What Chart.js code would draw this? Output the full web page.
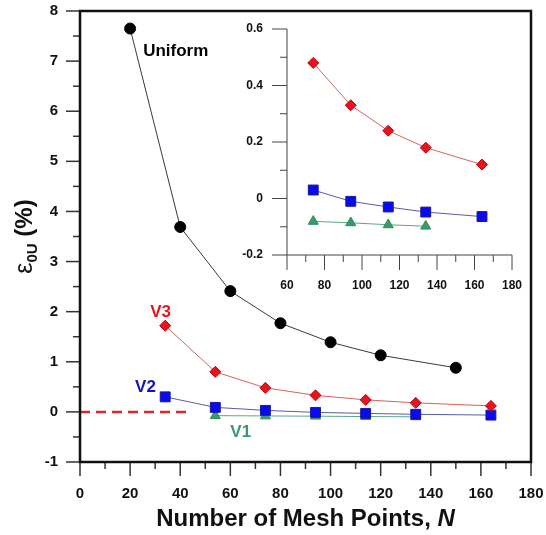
<!DOCTYPE html>
<html lang="en">
<head>
<meta charset="UTF-8">
<script src="https://cdn.jsdelivr.net/npm/chart.js"></script>
<title>Mesh convergence</title>
<style>
  body { margin: 0; background: #fff; }
  #wrap { position: relative; width: 546px; height: 535px; }
  #mainChart { position: absolute; left: 0; top: 0; }
  #insetChart { position: absolute; left: 240px; top: 15px; }
</style>
</head>
<body>
<div id="wrap">
  <canvas id="mainChart" width="546" height="535"></canvas>
  <canvas id="insetChart" width="285" height="290"></canvas>
</div>
<script>
// error (%) against number of mesh points for each node distribution
const uniformN = [20, 40, 60, 80, 100, 120, 150]
const uniformErr = [7.65, 3.69, 2.41, 1.77, 1.39, 1.13, 0.88]
const v3N = [34, 54, 74, 94, 114, 134, 164]
const v3Err = [1.72, 0.80, 0.48, 0.33, 0.24, 0.18, 0.12]
const v2N = [34, 54, 74, 94, 114, 134, 164]
const v2Err = [0.30, 0.09, 0.03, -0.01, -0.03, -0.048, -0.064]
const v1N = [54, 74, 94, 114, 134]
const v1Err = [-0.075, -0.081, -0.086, -0.093, -0.098]
const zeroN = [0, 43]
const zeroErr = [0, 0]

// labelled ticks (the rest of the ticks are unlabelled minor ones)
const mainXLabels = [0, 20, 40, 60, 80, 100, 120, 140, 160, 180]
const mainYLabels = [-1, 0, 1, 2, 3, 4, 5, 6, 7, 8]
const insetXLabels = [60, 80, 100, 120, 140, 160, 180]
const insetYLabels = [-0.2, 0, 0.2, 0.4, 0.6]

const FONT = '"Liberation Sans", Arial, sans-serif'
const RED = '#e8141c', BLUE = '#0a0af0', GREEN = '#3a9a6c'

function pts(xs, ys, minX) {
    return xs.map((x, i) => ({ x: x, y: ys[i] })).filter(p => minX === undefined || p.x >= minX)
}

function labelFrom(list, fmt) {
    return (v) => {
        const hit = list.find(l => Math.abs(l - v) < 1e-6)
        return hit === undefined ? '' : fmt(hit)
    }
}

function series(data, style, color, edge, line, radius) {
    return {
        data: data,
        borderColor: line,
        borderWidth: 1,
        pointStyle: style,
        pointRadius: radius,
        pointBackgroundColor: color,
        pointBorderColor: edge,
        pointBorderWidth: 1,
        tension: 0,
        fill: false
    }
}

// tick marks (long for labelled, short for minor) and the axis frame
const axisDecor = {
    id: 'axisDecor',
    afterDraw(chart, args, o) {
        const ctx = chart.ctx, a = chart.chartArea
        const xs = chart.scales.x, ys = chart.scales.y
        ctx.save()
        ctx.strokeStyle = o.tickColor
        ctx.lineWidth = o.tickWidth
        xs.ticks.forEach(t => {
            const px = xs.getPixelForValue(t.value)
            const len = t.label !== '' ? o.major : o.minor
            ctx.beginPath()
            ctx.moveTo(px, a.bottom)
            ctx.lineTo(px, a.bottom + len)
            ctx.stroke()
        })
        ys.ticks.forEach(t => {
            const py = ys.getPixelForValue(t.value)
            const len = t.label !== '' ? o.major : o.minor
            ctx.beginPath()
            ctx.moveTo(a.left, py)
            ctx.lineTo(a.left - len, py)
            ctx.stroke()
        })
        ctx.strokeStyle = o.frameColor
        ctx.lineWidth = o.frameWidth
        if (o.box) {
            ctx.strokeRect(a.left, a.top, a.right - a.left, a.bottom - a.top)
        } else {
            ctx.beginPath()
            ctx.moveTo(a.left, a.top)
            ctx.lineTo(a.left, a.bottom)
            ctx.lineTo(a.right, a.bottom)
            ctx.stroke()
        }
        ctx.restore()
    }
}

// series names and axis titles of the main plot
const mainText = {
    id: 'mainText',
    afterDraw(chart, args, o) {
        const ctx = chart.ctx, a = chart.chartArea
        const xs = chart.scales.x, ys = chart.scales.y
        ctx.save()
        ctx.textBaseline = 'middle'
        ctx.textAlign = 'left'
        o.names.forEach(n => {
            ctx.fillStyle = n.color
            ctx.font = 'bold 17px ' + FONT
            ctx.fillText(n.text, xs.getPixelForValue(n.x), ys.getPixelForValue(n.y))
        })

        // x title, with an italic N
        ctx.fillStyle = '#111'
        ctx.textBaseline = 'alphabetic'
        const head = 'Number of Mesh Points, '
        ctx.font = 'bold 24px ' + FONT
        const w1 = ctx.measureText(head).width
        ctx.font = 'italic bold 24px ' + FONT
        const w2 = ctx.measureText('N').width
        let x0 = (a.left + a.right) / 2 - (w1 + w2) / 2
        ctx.font = 'bold 24px ' + FONT
        ctx.fillText(head, x0, 526)
        ctx.font = 'italic bold 24px ' + FONT
        ctx.fillText('N', x0 + w1, 526)

        // y title: epsilon with a 0U subscript
        ctx.translate(32, (a.top + a.bottom) / 2)
        ctx.rotate(-Math.PI / 2)
        const parts = [
            { t: '\u03b5', f: '25px ' + FONT, dy: 0 },
            { t: '0U', f: 'bold 15px ' + FONT, dy: 5 },
            { t: ' (%)', f: 'bold 24px ' + FONT, dy: 0 }
        ]
        let total = 0
        parts.forEach(p => { ctx.font = p.f; p.w = ctx.measureText(p.t).width; total += p.w })
        let cx = -total / 2
        parts.forEach(p => {
            ctx.font = p.f
            ctx.fillText(p.t, cx, p.dy)
            cx += p.w
        })
        ctx.restore()
    }
}

// the label gap is made with an invisible tick length so it does not widen the plot padding
function axisOpts(min, max, step, labels, fmt, size, gap, fit) {
    return {
        type: 'linear',
        min: min,
        max: max,
        grid: { display: true, drawOnChartArea: false, drawTicks: true, tickLength: gap, tickColor: 'rgba(0,0,0,0)' },
        border: { display: false },
        ticks: {
            stepSize: step,
            autoSkip: false,
            maxRotation: 0,
            padding: 0,
            color: '#111',
            font: { family: FONT, size: size, weight: 'bold' },
            callback: labelFrom(labels, fmt)
        },
        afterFit: fit
    }
}

new Chart(document.getElementById('mainChart'), {
    type: 'line',
    data: {
        datasets: [
            series(pts(uniformN, uniformErr), 'circle', '#000', '#000', '#3a3a3a', 5.5),
            series(pts(v3N, v3Err), 'rectRot', RED, '#c00010', '#d46464', 5.5),
            series(pts(v2N, v2Err), 'rect', BLUE, '#1a1a90', '#5a5aa8', 7),
            series(pts(v1N, v1Err), 'triangle', GREEN, '#2f8a5c', '#5aa884', 5.8),
            {
                data: pts(zeroN, zeroErr),
                borderColor: '#d42a2a',
                borderWidth: 2.5,
                borderDash: [10, 6],
                pointRadius: 0
            }
        ]
    },
    options: {
        responsive: false,
        animation: false,
        events: [],
        layout: { padding: { left: 0, right: 15, top: 11, bottom: 0 } },
        plugins: {
            legend: { display: false },
            tooltip: { enabled: false },
            axisDecor: { major: 14, minor: 7, tickColor: '#333', tickWidth: 1.5, frameColor: '#111', frameWidth: 2.5, box: true },
            mainText: {
                names: [
                    { text: 'Uniform', x: 25.2, y: 7.2, color: '#000' },
                    { text: 'V3', x: 28, y: 1.99, color: RED },
                    { text: 'V2', x: 22, y: 0.49, color: '#1212c0' },
                    { text: 'V1', x: 60, y: -0.41, color: GREEN }
                ]
            }
        },
        scales: {
            x: axisOpts(0, 180, 10, mainXLabels, v => String(v), 15, 23, s => { s.height = 73 }),
            y: axisOpts(-1, 8, 0.5, mainYLabels, v => String(v), 15, 22, s => { s.width = 80 })
        }
    },
    plugins: [axisDecor, mainText]
})

// close-up of the V1-V3 curves
new Chart(document.getElementById('insetChart'), {
    type: 'line',
    data: {
        datasets: [
            series(pts(v3N, v3Err, 60), 'rectRot', RED, '#c00010', '#d46464', 5.5),
            series(pts(v2N, v2Err, 60), 'rect', BLUE, '#1a1a90', '#5a5aa8', 7),
            series(pts(v1N, v1Err, 60), 'triangle', GREEN, '#2f8a5c', '#5aa884', 5.8)
        ]
    },
    options: {
        responsive: false,
        animation: false,
        events: [],
        layout: { padding: { left: 0, right: 13, top: 14, bottom: 0 } },
        plugins: {
            legend: { display: false },
            tooltip: { enabled: false },
            axisDecor: { major: 15, minor: 7, tickColor: '#444', tickWidth: 1, frameColor: '#444', frameWidth: 1, box: false }
        },
        scales: {
            x: axisOpts(60, 180, 10, insetXLabels, v => String(v), 12, 23, s => { s.height = 50 }),
            y: axisOpts(-0.2, 0.6, 0.1, insetYLabels, v => v === 0 ? '0' : v.toFixed(1), 12, 24, s => { s.width = 47 })
        }
    },
    plugins: [axisDecor]
})
</script>
</body>
</html>
